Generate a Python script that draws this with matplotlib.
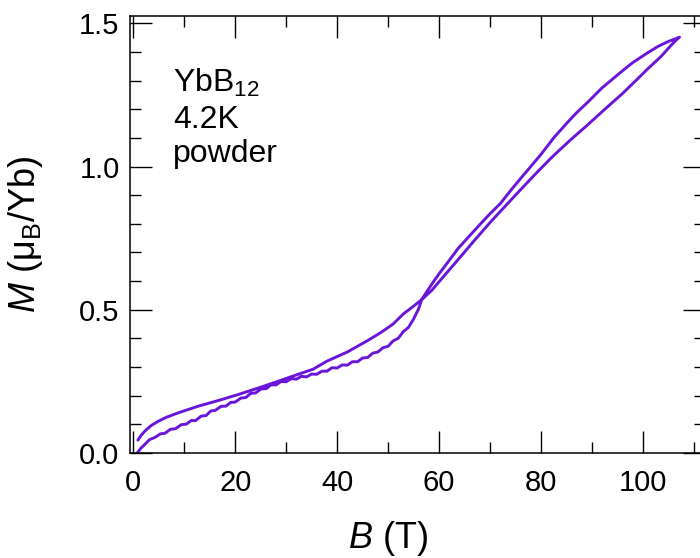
import matplotlib
matplotlib.use("Agg")
import matplotlib.pyplot as plt
from matplotlib.ticker import MultipleLocator

plt.rcParams['font.family'] = ['Liberation Sans', 'DejaVu Sans']
plt.rcParams['mathtext.fontset'] = 'custom'
plt.rcParams['mathtext.rm'] = 'Liberation Sans'
plt.rcParams['mathtext.it'] = 'Liberation Sans:italic'

# Field up-sweep (B in T, M in muB/Yb)
b_up = [0.8, 1.5, 2.3, 3.2, 4.3, 5.3, 6.2, 7.3, 8.3, 9.4, 10.4, 11.4, 12.2,
        13.3, 14.3, 15.2, 16.1, 17.2, 18.2, 19.1, 20.0, 21.1, 22.1, 23.0,
        24.0, 25.1, 26.1, 27.0, 28.0, 29.0, 30.0, 31.0, 32.0, 33.0, 34.0,
        35.0, 36.0, 37.0, 38.0, 39.0, 40.0, 41.0, 42.0, 43.0, 44.0, 45.0,
        46.0, 47.0, 48.0, 49.0, 50.0, 51.0, 52.0, 53.0, 54.0, 55.0, 56.0,
        56.6, 57.5, 58.5, 60.0, 62.0, 63.8, 66.0, 68.0, 70.0, 72.1, 74.0,
        76.0, 78.0, 80.0, 82.5, 85.0, 87.0, 89.2, 92.0, 95.7, 98.0, 100.9,
        103.0, 105.0, 106.5, 107.2]
m_up = [0.000, 0.016, 0.030, 0.046, 0.054, 0.066, 0.068, 0.082, 0.084, 0.098,
        0.100, 0.113, 0.112, 0.128, 0.130, 0.146, 0.148, 0.162, 0.163, 0.176,
        0.177, 0.191, 0.193, 0.207, 0.209, 0.223, 0.224, 0.237, 0.237, 0.249,
        0.248, 0.259, 0.257, 0.267, 0.265, 0.275, 0.274, 0.285, 0.285, 0.297,
        0.296, 0.307, 0.306, 0.318, 0.318, 0.331, 0.333, 0.348, 0.352, 0.367,
        0.372, 0.391, 0.400, 0.423, 0.438, 0.467, 0.503, 0.535, 0.560, 0.587,
        0.625, 0.672, 0.715, 0.758, 0.797, 0.835, 0.872, 0.915, 0.958, 1.000,
        1.042, 1.100, 1.150, 1.188, 1.225, 1.275, 1.330, 1.363, 1.397, 1.420,
        1.437, 1.447, 1.452]

# Field down-sweep
b_down = [107.2, 106.8, 106.2, 105.0, 103.6, 101.0, 98.9, 96.0, 92.4, 89.0,
          85.8, 82.0, 78.6, 75.0, 70.2, 67.0, 63.8, 61.0, 58.5, 56.6, 55.0,
          53.0, 51.0, 49.4, 48.4, 46.0, 44.0, 42.0, 40.0, 38.0, 35.3, 32.0,
          28.8, 25.0, 20.7, 16.8, 12.8, 8.9, 6.5, 4.9, 3.5, 2.3, 1.5, 0.9]
m_down = [1.452, 1.446, 1.436, 1.413, 1.385, 1.342, 1.305, 1.255, 1.198, 1.143,
          1.093, 1.030, 0.968, 0.900, 0.808, 0.743, 0.676, 0.618, 0.566, 0.535,
          0.512, 0.485, 0.450, 0.430, 0.418, 0.392, 0.372, 0.352, 0.336, 0.320,
          0.292, 0.272, 0.252, 0.229, 0.204, 0.183, 0.163, 0.140, 0.124, 0.110,
          0.095, 0.076, 0.060, 0.044]

x_ticks = [0, 20, 40, 60, 80, 100]
y_ticks = [0.0, 0.5, 1.0, 1.5]
line_color = '#6A16DA'

fig = plt.figure(figsize=(7.0, 5.58), dpi=100)
ax = fig.add_axes([0.1857, 0.1876, 0.8214, 0.7842])

ax.plot(b_up + b_down, m_up + m_down, color=line_color, lw=2.1,
        solid_joinstyle='round', solid_capstyle='round')

ax.set_xlim(-0.65, 112.2)
ax.set_ylim(-0.002, 1.527)
ax.set_xticks(x_ticks)
ax.set_yticks(y_ticks)
ax.set_xticklabels([str(v) for v in x_ticks])
ax.set_yticklabels([f'{v:.1f}' for v in y_ticks])
ax.xaxis.set_minor_locator(MultipleLocator(10))
ax.yaxis.set_minor_locator(MultipleLocator(0.1))

for side in ax.spines.values():
    side.set_linewidth(1.1)
ax.tick_params(which='both', direction='in', top=True, right=True,
               width=1.0, labelsize=21, colors='black')
ax.tick_params(which='major', length=15.8)
ax.tick_params(which='minor', length=8)
ax.tick_params(axis='y', which='major', pad=7.5)
ax.tick_params(axis='x', which='major', pad=11)

ax.set_xlabel(r'$B$ (T)', fontsize=26)
ax.set_ylabel(r'$M$ ($\mathregular{μ_B}$/Yb)', fontsize=26)
ax.xaxis.set_label_coords(0.449, -0.150)
ax.yaxis.set_label_coords(-0.148, 0.5)

ax.text(0.075, 0.826, r'$\mathregular{YbB_{12}}$', transform=ax.transAxes,
        fontsize=23, va='baseline', ha='left')
ax.text(0.075, 0.743, '4.2K', transform=ax.transAxes,
        fontsize=23, va='baseline', ha='left')
ax.text(0.075, 0.666, 'powder', transform=ax.transAxes,
        fontsize=23, va='baseline', ha='left')

fig.savefig('out.png', dpi=100)
